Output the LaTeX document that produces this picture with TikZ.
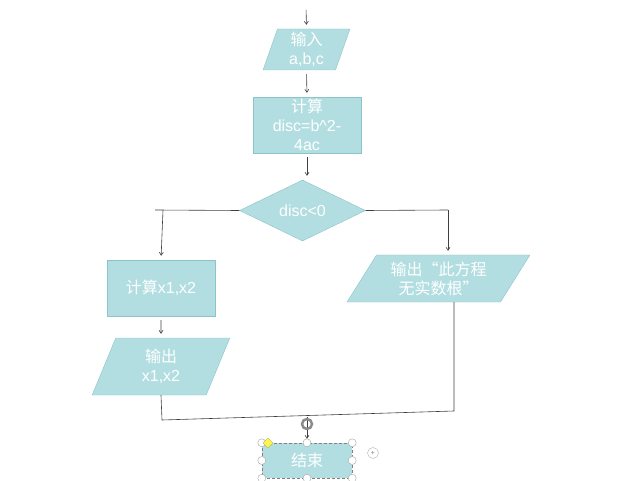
\documentclass[tikz,border=0pt]{standalone}
\usepackage{fontspec}
\setmainfont{Liberation Sans}
\newfontfamily\cjkfont{Noto Sans CJK SC}
\newcommand{\zh}[1]{{\cjkfont #1}}
\usetikzlibrary{positioning, shapes.geometric, arrows.meta}

\begin{document}
\begin{tikzpicture}[x=1pt, y=-1pt,
    proc/.style={draw=cEdge, fill=cBox, text=white, align=center, font=\fontsize{16}{19}\selectfont, inner sep=1pt},
    io/.style={proc, trapezium, trapezium stretches=true},
    dec/.style={proc, diamond, aspect=2.1},
    flow/.style={draw=black!75, line width=0.6pt},
    arr/.style={flow, -{Straight Barb[length=3pt, width=4pt]}, shorten >=4pt, shorten <=4pt},
    handle/.style={circle, draw=gray!70, fill=white, inner sep=0pt, minimum size=8pt}]

\definecolor{cBox}{HTML}{B2DEE1}
\definecolor{cEdge}{HTML}{8CC4C9}

\useasboundingbox (0,0) rectangle (640,481);

% Cajas del diagrama
\node[io, trapezium left angle=76, trapezium right angle=104, minimum width=87pt, minimum height=41pt] (input) at (306.5,49.5) {\zh{输入}\\a,b,c};
\node[proc, minimum width=108pt, minimum height=56pt] (disc) at (307,125) {\zh{计算}\\disc=b\^{}2-\\4ac};
\node[dec, minimum width=126pt, minimum height=61pt] (test) at (302.5,210.5) {disc<0};
\node[proc, minimum width=108pt, minimum height=56pt] (roots) at (161,288) {\zh{计算}x1,x2};
\node[io, trapezium left angle=74, trapezium right angle=106, minimum width=138pt, minimum height=57pt] (out) at (161,366.5) {\zh{输出}\\x1,x2};
\node[io, trapezium left angle=57, trapezium right angle=123, minimum width=183pt, minimum height=47pt] (noroot) at (438.5,278.5) {\zh{输出“此方程}\\\zh{无实数根”}};
\node[proc, draw=gray, densely dashed, minimum width=90pt, minimum height=35pt] (stop) at (307,460.5) {\zh{结束}};

% Puntos auxiliares
\coordinate (start) at (306,6);
\coordinate (lt) at (155,210);
\coordinate (lb) at (163,210);
\coordinate (rt) at (448,210);
\coordinate (ml) at (162,420);
\coordinate (mr) at (454,411);
\coordinate (mm) at (307,417);

% Conectores
\draw[arr] (start) -- (input.north);
\draw[arr] (input.south) -- (disc.north);
\draw[arr] (disc.south) -- (disc.south |- test.north);
\draw[flow] (test.west) -- (lt);
\draw[arr, shorten <=0pt] (lb) -- (roots.north);
\draw[arr] (roots.south) -- (out.north);
\draw[flow] (test.east) -- (rt);
\draw[arr, shorten <=0pt] (rt) -- (rt |- noroot.north);
\draw[flow] (out.south) -- (ml) -- (mr) -- (mr |- noroot.south);
\draw[arr, shorten <=0pt] (mm) -- (stop.north);

% Marcas de seleccion
\node[circle, draw=gray!90, line width=2.5pt, minimum size=10pt, inner sep=0pt] (ring) at (307,424) {};
\foreach \p in {north west, north, north east, west, east, south west, south, south east}
    \node[handle] at (stop.\p) {};
\node[diamond, fill=yellow!70, draw=olive!60, inner sep=0pt, minimum size=10pt] (knob) at (268,443) {};
\node[circle, draw=gray!60, minimum size=11pt, inner sep=0pt, font=\scriptsize, text=gray] (plus) at (373,453) {+};

\end{tikzpicture}
\end{document}
